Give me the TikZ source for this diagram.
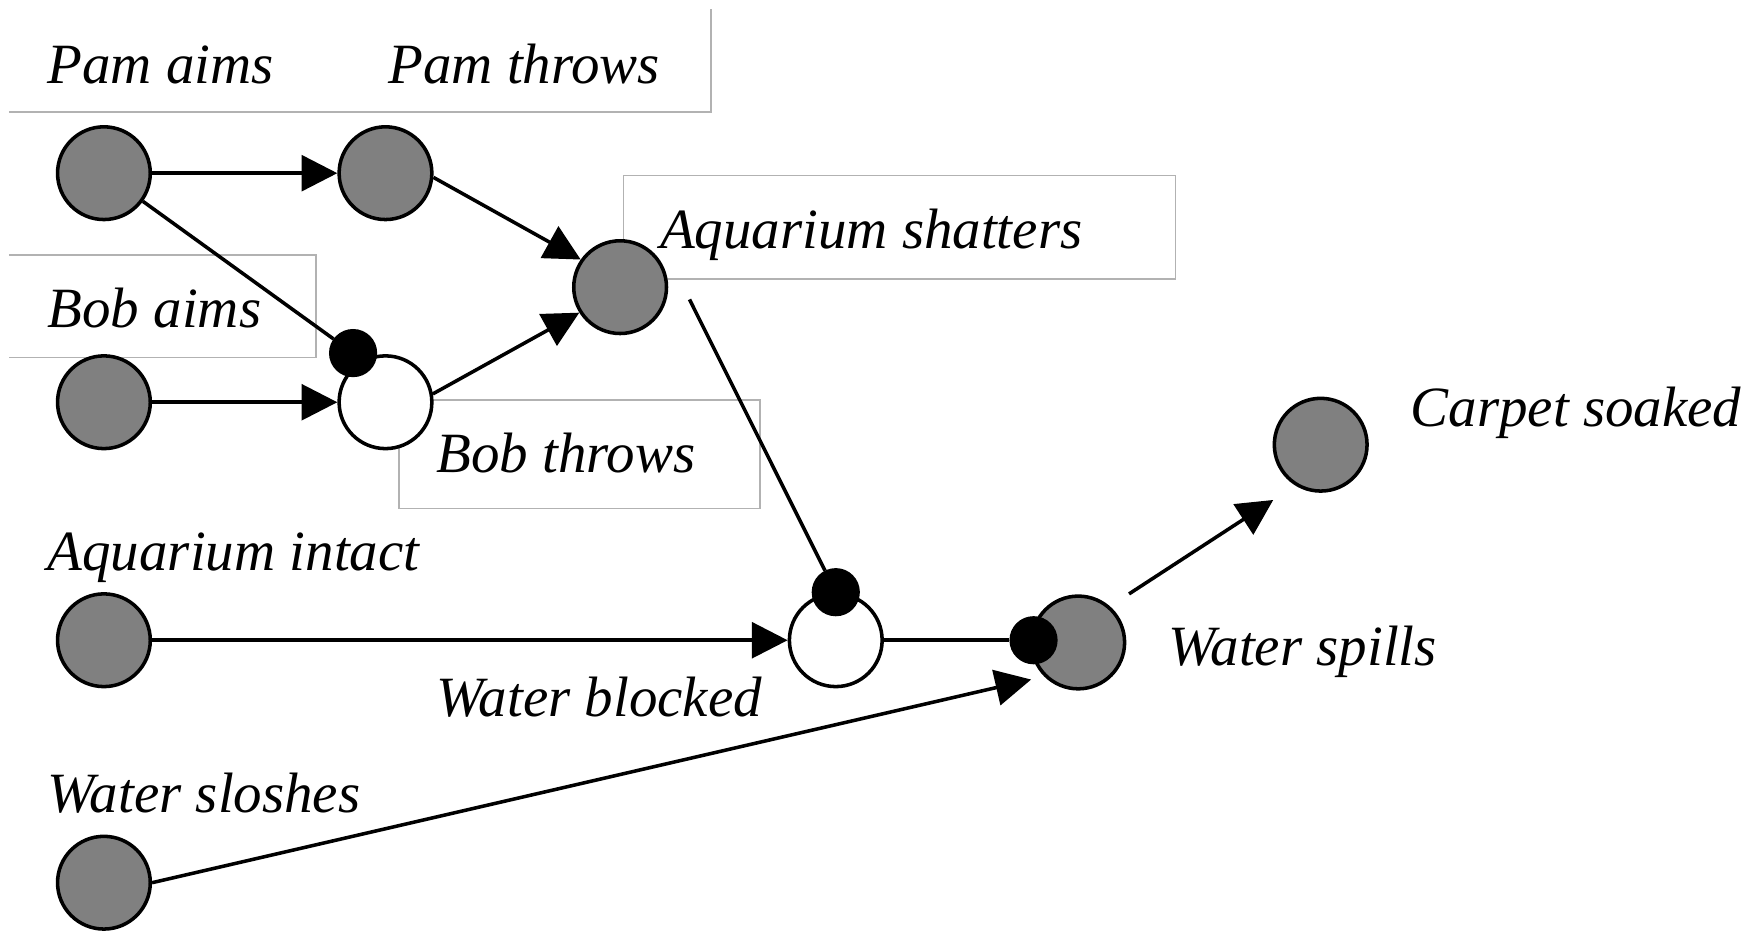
\documentclass[tikz,border=0pt]{standalone}
\usepackage{fontspec}
\setmainfont{Liberation Serif}[ItalicFont={Liberation Serif Italic}]
\usetikzlibrary{arrows.meta,calc}
\definecolor{nodegray}{RGB}{128,128,128}
\definecolor{boxgray}{RGB}{178,178,178}
\begin{document}
\begin{tikzpicture}[x=0.1mm,y=-0.1mm,
  ev/.style={circle,draw=black,line width=0.9pt,fill=nodegray,minimum size=8.3mm,inner sep=0pt},
  evw/.style={ev,fill=white},
  dot/.style={circle,fill=black,draw=black,line width=0.6pt,minimum size=4.1mm,inner sep=0pt},
  lab/.style={anchor=base west,inner sep=0pt,font=\fontsize{14.5}{17}\selectfont\itshape},
  frame/.style={draw=boxgray,line width=0.45pt},
  link/.style={draw=black,line width=0.9pt},
  cause/.style={link,-{Triangle[length=3.2mm,width=3.2mm]}}
]
\useasboundingbox (0,0) rectangle (1568,834);
% label frames
\draw[frame] (8,100) -- (636,100) -- (636,8);
\draw[frame] (8,228) -- (283,228) -- (283,320) -- (8,320);
\draw[frame] (558,157) rectangle (1052,250);
\draw[frame] (357,358) rectangle (680,455);
% event nodes
\node[ev] (PA) at (93,155) {};
\node[ev] (PT) at (345,155) {};
\node[ev] (AS) at (555,257) {};
\node[ev] (BA) at (93,360) {};
\node[evw] (BT) at (345,360) {};
\node[ev] (AI) at (93,573) {};
\node[evw] (WB) at (748,573) {};
\node[ev] (WS) at (965,575) {};
\node[ev] (CS) at (1182,398) {};
\node[ev] (WSl) at (93,790) {};
% inhibitor dots
\node[dot] (BTd) at (316,316) {};
\node[dot] (WBd) at (748,530) {};
\node[dot] (WSd) at (925,573) {};
% labels
\node[lab] (tPA) at (42,75) {Pam aims};
\node[lab] (tPT) at (347,75) {Pam throws};
\node[lab] (tAS) at (590,222) {Aquarium shatters};
\node[lab] (tBA) at (42,293) {Bob aims};
\node[lab] (tBT) at (390,423) {Bob throws};
\node[lab] (tAI) at (42,511) {Aquarium intact};
\node[lab] (tWB) at (390,641) {Water blocked};
\node[lab] (tWSl) at (42,727) {Water sloshes};
\node[lab] (tWS) at (1045,596) {Water spills};
\node[lab] (tCS) at (1262,382) {Carpet soaked};
% connectors
\draw[cause] (PA) -- (PT);
\draw[cause] (BA) -- (BT);
\draw[cause] (PT.-5) -- (AS.145);
\draw[cause] (BT.10) -- (AS.212);
\draw[link] (PA) -- (BTd);
\draw[link] ([shift={(19,11)}]AS.east) -- (WBd);
\draw[cause] (AI) -- (WB);
\draw[link] (WB) -- (WSd);
\draw[cause,shorten >=1.2mm] (WSl.east) -- (WS.225);
\draw[cause] ([shift={(15,-13)}]WS.north east) -- ([shift={(-12,19)}]CS.south west);
\end{tikzpicture}
\end{document}
